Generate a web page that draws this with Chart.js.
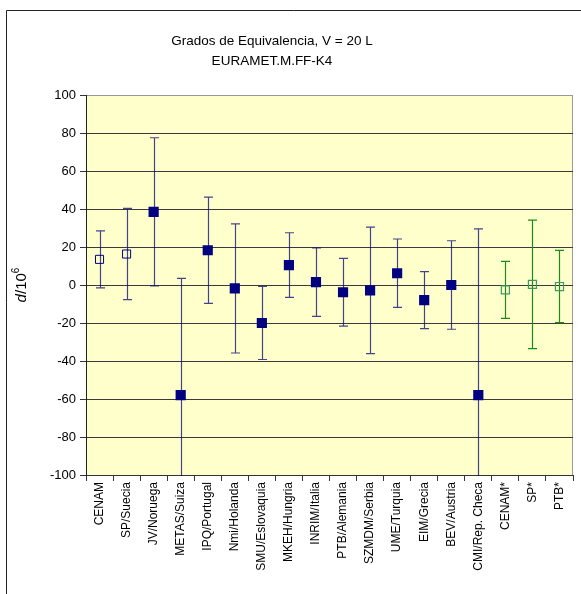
<!DOCTYPE html>
<html><head><meta charset="utf-8">
<script src="https://cdn.jsdelivr.net/npm/chart.js@4/dist/chart.umd.min.js"></script>
<style>html,body{margin:0;padding:0;background:#fff;}#wrap{width:581px;height:594px;position:relative;}</style>
</head><body><div id="wrap"><canvas id="c" width="581" height="594"></canvas></div>
<script>
const titleLines = ['Grados de Equivalencia, V = 20 L', 'EURAMET.M.FF-K4'];
const categories = ['CENAM','SP/Suecia','JV/Noruega','METAS/Suiza','IPQ/Portugal','Nmi/Holanda','SMU/Eslovaquia','MKEH/Hungria','INRIM/Italia','PTB/Alemania','SZMDM/Serbia','UME/Turquia','EIM/Grecia','BEV/Austria','CMI/Rep. Checa','CENAM*','SP*','PTB*'];
const pilotValues = [13.5, 16.3, null, null, null, null, null, null, null, null, null, null, null, null, null, null, null, null];
const participantValues = [null, null, 38.5, -58, 18.3, -1.8, -20, 10.5, 1.5, -3.8, -2.8, 6.2, -8, 0, -58, null, null, null];
const linkValues = [null, null, null, null, null, null, null, null, null, null, null, null, null, null, null, -2.6, 0.3, -0.8];
const expandedU = [15, 24, 39, 61.5, 28, 34, 19.2, 17, 18, 17.8, 33.3, 18, 15, 23.3, 87.5, 15, 33.8, 19];
const yMin = -100, yMax = 100, yStep = 20;

const FONT = "'Liberation Sans', Arial, sans-serif";

const framePlugin = {
  id: 'frame',
  beforeDraw(chart) {
    const ctx = chart.ctx, a = chart.chartArea;
    ctx.save();
    ctx.fillStyle = '#fff';
    ctx.fillRect(0, 0, chart.width, chart.height);
    ctx.strokeStyle = '#222';
    ctx.lineWidth = 1;
    ctx.beginPath();
    ctx.moveTo(6.5, 594); ctx.lineTo(6.5, 10.5); ctx.lineTo(581, 10.5);
    ctx.stroke();
    ctx.fillStyle = '#FFFFCC';
    ctx.fillRect(a.left, a.top, a.right - a.left, a.bottom - a.top);
    ctx.strokeStyle = '#999';
    ctx.strokeRect(a.left + 0.5, a.top + 0.5, a.right - a.left - 1, a.bottom - a.top);
    // title
    ctx.fillStyle = '#000';
    ctx.font = '13.5px ' + FONT;
    ctx.textAlign = 'center';
    ctx.textBaseline = 'middle';
    ctx.fillText(titleLines[0], 272, 41);
    ctx.fillText(titleLines[1], 272, 61);
    // y title
    ctx.translate(22, 285);
    ctx.rotate(-Math.PI / 2);
    ctx.textAlign = 'left';
    ctx.textBaseline = 'middle';
    const f1 = 'italic 15px ' + FONT, f2 = '15px ' + FONT, f3 = '10px ' + FONT;
    ctx.font = f1; const w1 = ctx.measureText('d').width;
    ctx.font = f2; const w2 = ctx.measureText('/10').width;
    ctx.font = f3; const w3 = ctx.measureText('6').width;
    let x = -(w1 + w2 + w3) / 2;
    ctx.font = f1; ctx.fillText('d', x, 0); x += w1;
    ctx.font = f2; ctx.fillText('/10', x, 0); x += w2;
    ctx.font = f3; ctx.fillText('6', x, -6);
    ctx.restore();
  }
};

const errorBarPlugin = {
  id: 'errbars',
  beforeDatasetsDraw(chart) {
    const ctx = chart.ctx, a = chart.chartArea;
    const xs = chart.scales.x, ys = chart.scales.y;
    ctx.save();
    ctx.beginPath();
    ctx.rect(a.left, a.top, a.right - a.left, a.bottom - a.top + 1);
    ctx.clip();
    chart.data.datasets.forEach(ds => {
      ctx.strokeStyle = ds.barColor;
      ctx.lineWidth = 1.2;
      ds.data.forEach((v, i) => {
        if (v === null) return;
        const px = Math.round(xs.getPixelForValue(i)) + 0.5;
        const yTop = ys.getPixelForValue(v + expandedU[i]);
        const yBot = ys.getPixelForValue(v - expandedU[i]);
        ctx.beginPath();
        ctx.moveTo(px, yTop); ctx.lineTo(px, yBot);
        ctx.moveTo(px - 4.5, yTop); ctx.lineTo(px + 4.5, yTop);
        ctx.moveTo(px - 4.5, yBot); ctx.lineTo(px + 4.5, yBot);
        ctx.stroke();
      });
    });
    ctx.restore();
  }
};

new Chart(document.getElementById('c'), {
  type: 'line',
  data: {
    labels: categories,
    datasets: [
      { data: participantValues, showLine: false, pointStyle: 'rect', pointRadius: 7.2, pointHoverRadius: 7.2,
        backgroundColor: '#000080', borderColor: '#000080', pointBorderWidth: 0, barColor: 'rgba(20,20,120,0.8)' },
      { data: pilotValues, showLine: false, pointStyle: 'rect', pointRadius: 5.7, pointHoverRadius: 5.7,
        backgroundColor: 'rgba(0,0,0,0)', borderColor: '#000080', pointBorderWidth: 1, barColor: 'rgba(20,20,120,0.8)' },
      { data: linkValues, showLine: false, pointStyle: 'rect', pointRadius: 5.7, pointHoverRadius: 5.7,
        backgroundColor: 'rgba(0,0,0,0)', borderColor: '#3a9a62', pointBorderWidth: 1.2, barColor: '#1a8a1a' }
    ]
  },
  options: {
    responsive: false,
    animation: false,
    events: [],
    layout: { padding: { left: 0, right: 8, top: 95, bottom: 0 } },
    plugins: { legend: { display: false }, tooltip: { enabled: false }, title: { display: false } },
    scales: {
      x: {
        type: 'category',
        offset: true,
        afterFit(s) { s.height = 119; },
        grid: { offset: true, drawOnChartArea: false, drawTicks: true, tickLength: 6, color: '#333', lineWidth: 1 },
        border: { display: true, color: '#333', width: 1 },
        ticks: { autoSkip: false, minRotation: 90, maxRotation: 90, padding: 1, color: '#000',
          font: { family: FONT, size: 12 } }
      },
      y: {
        min: yMin, max: yMax,
        afterFit(s) { s.width = 86; },
        grid: { color: ctx => (ctx.tick && ctx.tick.value === yMax ? '#999' : '#3a3a3a'), lineWidth: 1, tickLength: 6, tickColor: '#333' },
        border: { display: true, color: '#222', width: 1 },
        ticks: { stepSize: yStep, padding: 4, color: '#000', font: { family: FONT, size: 13 } }
      }
    }
  },
  plugins: [framePlugin, errorBarPlugin]
});
</script></body></html>
